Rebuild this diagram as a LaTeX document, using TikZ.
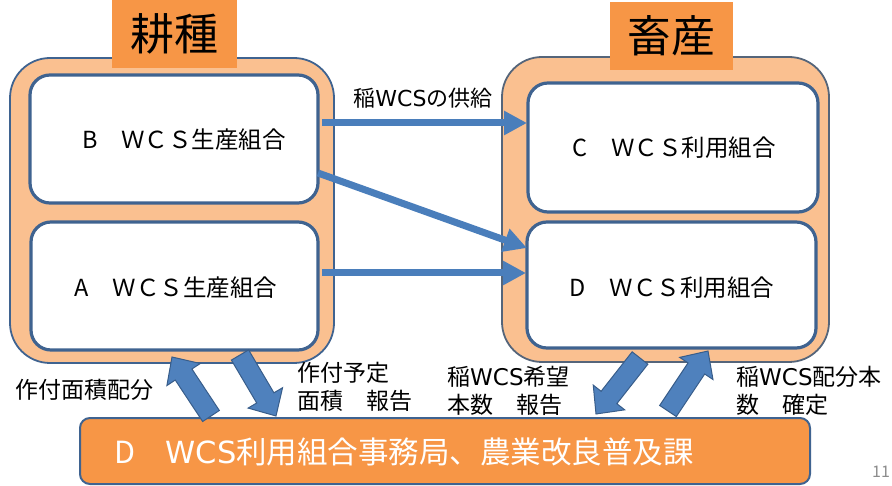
\documentclass[tikz,border=0pt]{standalone}
\usepackage{fontspec}
\setmainfont{Noto Sans CJK JP}
\newfontfamily\latf{DejaVu Sans}
\usetikzlibrary{arrows.meta,calc}
\definecolor{grpfill}{HTML}{FAC090}
\definecolor{ttlfill}{HTML}{F79646}
\definecolor{bdr}{HTML}{3F6390}
\definecolor{grpgray}{HTML}{55657A}
\definecolor{arr}{HTML}{4A7EBB}
\definecolor{blk}{HTML}{4F81BD}
\definecolor{blkb}{HTML}{385D8A}
\definecolor{pgnum}{HTML}{8C8C8C}
\newcommand\blockarrow[3]{%
  \coordinate (#1n) at ($(#3)!21pt!(#2)$);
  \draw[blockarr] ($(#2)!10pt!90:(#3)$) -- ($(#1n)!10pt!90:(#3)$) -- ($(#1n)!20pt!90:(#3)$)
    -- (#3) -- ($(#1n)!20pt!-90:(#3)$) -- ($(#1n)!10pt!-90:(#3)$) -- ($(#2)!10pt!-90:(#3)$) -- cycle;
}
\newcommand\wcs{{\latf WCS}}
\begin{document}
\begin{tikzpicture}[x=1pt,y=-1pt,
  grp/.style={draw=bdr, line width=1.8pt, fill=grpfill, rounded corners=40pt, inner sep=0pt, outer sep=0pt},
  ttl/.style={fill=ttlfill, inner sep=0pt, outer sep=0pt, font=\fontsize{44}{50}\selectfont},
  unit/.style={draw=bdr, line width=3.2pt, fill=white, rounded corners=20pt, inner sep=0pt, outer sep=0pt},
  utxt/.style={font=\fontsize{23.5}{26}\selectfont, inner sep=0pt},
  lbl/.style={font=\fontsize{23}{28}\selectfont, inner sep=0pt, align=left},
  office/.style={draw=bdr, line width=2pt, fill=ttlfill, rounded corners=10pt, inner sep=0pt, outer sep=0pt},
  conn/.style={draw=arr, line width=7pt, -{Triangle[length=23pt,width=23pt]}},
  blockarr/.style={fill=blk, draw=blkb, line width=1pt, line join=miter}]
\useasboundingbox (0,0) rectangle (892,486);
% groups
\node[grp, minimum width=324pt, minimum height=305pt] (L) at (172,210.5) {};
\node[grp, draw=grpgray, minimum width=327pt, minimum height=305pt] (R) at (665.5,209.5) {};
\node[ttl, minimum width=125pt, minimum height=68pt] (Lt) at (174.5,34) {耕種};
\node[ttl, minimum width=123pt, minimum height=68pt] (Rt) at (671.5,36) {畜産};
% unit boxes
\node[unit, minimum width=288pt, minimum height=128pt] (B) at (174,139) {};
\node[unit, minimum width=287pt, minimum height=128pt] (A) at (174.5,286) {};
\node[unit, minimum width=290pt, minimum height=129pt] (C) at (673,147.5) {};
\node[unit, minimum width=289pt, minimum height=126pt] (D) at (671.5,285) {};
\node[utxt] (Bt) at (184,140) {B　ＷＣＳ生産組合};
\node[utxt] (At) at (176,288) {A　ＷＣＳ生産組合};
\node[utxt] (Ct) at (674,148) {C　ＷＣＳ利用組合};
\node[utxt] (Dt) at (672,288) {D　ＷＣＳ利用組合};
% office
\node[office, minimum width=730pt, minimum height=66pt] (E) at (445,451) {};
\node[anchor=west, inner sep=0pt, text=white, font=\fontsize{30.5}{34}\selectfont] (Et) at (114,452) {D　\wcs 利用組合事務局、農業改良普及課};
% connectors
\draw[conn] ($(B.east)+(4,-16)$) -- ($(C.west)+(-1,-24.5)$);
\draw[conn] ($(B.east)+(0,34)$) -- ($(D.west)+(0,-37)$);
\draw[conn] ($(A.east)+(4,-13)$) -- ($(D.west)+(-1,-12)$);
\node[font=\fontsize{22}{24}\selectfont, inner sep=0pt] (sup) at (423,98) {稲\wcs の供給};
% block arrows
\coordinate (k1b) at (211,416); \coordinate (k1t) at (172,357);
\coordinate (k2b) at (240,355); \coordinate (k2t) at (276,416);
\coordinate (k3b) at (640,358); \coordinate (k3t) at (596,414);
\coordinate (k4b) at (668,411); \coordinate (k4t) at (708,351);
\blockarrow{k1}{k1b}{k1t}
\blockarrow{k2}{k2b}{k2t}
\blockarrow{k3}{k3b}{k3t}
\blockarrow{k4}{k4b}{k4t}
% labels
\node[lbl, anchor=west] (l1) at (15,390) {作付面積配分};
\node[lbl, anchor=west] (l2) at (297,387) {作付予定\\面積　報告};
\node[lbl, anchor=west] (l3) at (447,391) {稲\wcs 希望\\本数　報告};
\node[lbl, anchor=west] (l4) at (736,391) {稲\wcs 配分本\\数　確定};
\node[text=pgnum, font=\fontsize{16}{18}\selectfont, inner sep=0pt] (pg) at (881,472) {11};
\end{tikzpicture}
\end{document}
